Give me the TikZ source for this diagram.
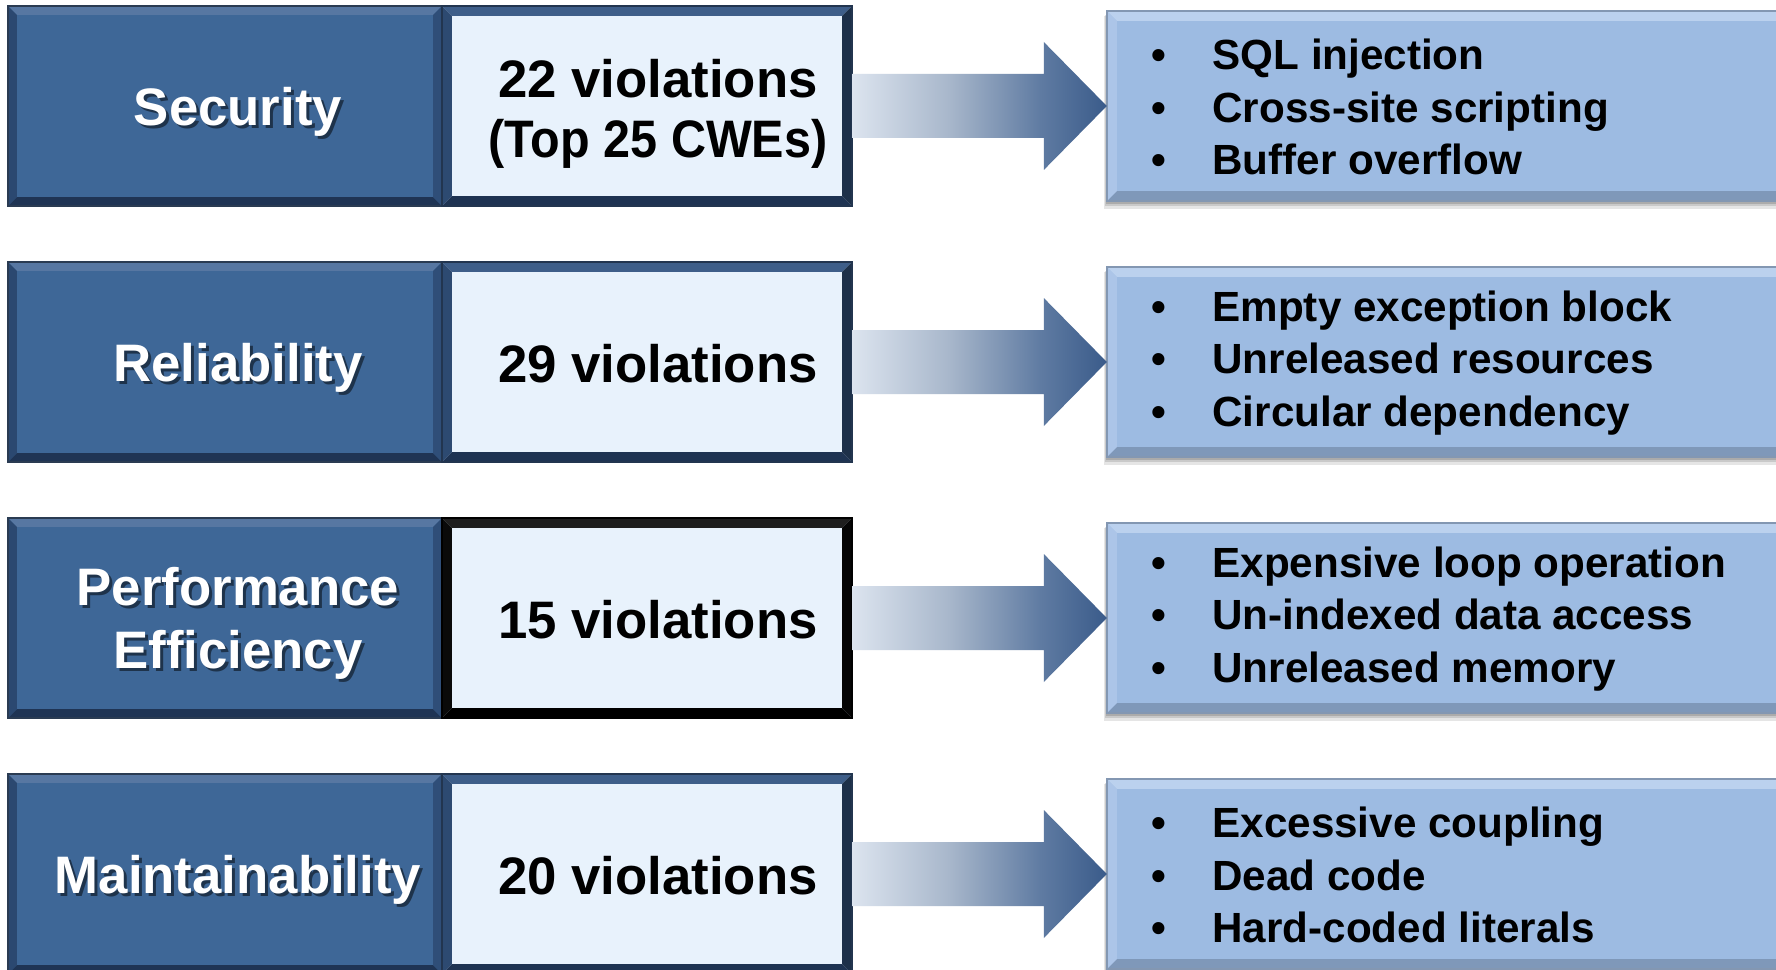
\documentclass[tikz,border=0pt]{standalone}
\usepackage{fontspec}
\usepackage{graphicx}
\setmainfont{Liberation Sans}
\usetikzlibrary{calc}

% face and bevel colours of the three box kinds
\definecolor{dkface}{HTML}{3E6797}
\definecolor{dktop}{HTML}{5777A2}
\definecolor{dkleft}{HTML}{2B4870}
\definecolor{dkbot}{HTML}{1F3454}
\definecolor{dkright}{HTML}{2F4E78}
\definecolor{dkline}{HTML}{2A3B52}

\definecolor{ltface}{HTML}{E8F2FC}
\definecolor{lttop}{HTML}{3E5E89}
\definecolor{ltleft}{HTML}{2D4A71}
\definecolor{ltbot}{HTML}{1E3352}
\definecolor{ltright}{HTML}{1D3049}
\definecolor{ltline}{HTML}{22354F}

\definecolor{bkface}{HTML}{E8F2FC}
\definecolor{bktop}{HTML}{1E1E1E}
\definecolor{bkleft}{HTML}{0A0A0A}
\definecolor{bkbot}{HTML}{000000}
\definecolor{bkright}{HTML}{050505}
\definecolor{bkline}{HTML}{000000}

\definecolor{rbface}{HTML}{9DBBE2}
\definecolor{rbtop}{HTML}{BBD1EE}
\definecolor{rbleft}{HTML}{ACC5E8}
\definecolor{rbbot}{HTML}{7F98B9}
\definecolor{rbright}{HTML}{8EA8CC}
\definecolor{rbline}{HTML}{8397B2}

\definecolor{arA}{HTML}{DCE4EF}
\definecolor{arB}{HTML}{A8B7CB}
\definecolor{arC}{HTML}{5F7BA2}
\definecolor{arD}{HTML}{3A5B8A}

\pgfdeclarehorizontalshading{arrowshade}{100bp}{color(0bp)=(arA); color(25bp)=(arA); color(44bp)=(arB); color(62bp)=(arC); color(75bp)=(arD); color(100bp)=(arD)}

\tikzset{
  box/.style={rectangle, draw=none, inner sep=0pt, outer sep=0pt},
  catbox/.style={box, minimum width=4.34cm, minimum height=2.00cm},
  valbox/.style={box, minimum width=4.10cm, minimum height=2.00cm},
  listbox/.style={box, minimum width=6.93cm, minimum height=1.90cm},
  cattext/.style={font=\fontsize{15}{18}\selectfont\bfseries, text=white, align=center, inner sep=0pt},
  catshadow/.style={cattext, text=black, opacity=.5},
  valtext/.style={font=\fontsize{15}{17.2}\selectfont\bfseries, text=black, align=center, inner sep=0pt},
  listtext/.style={font=\fontsize{12}{14.9}\selectfont\bfseries, text=black, align=left, anchor=west, inner sep=0pt},
  flow/.style={shading=arrowshade}
}

% bevelled frame around a named node: node, bevel width, colour set
\newcommand\bevel[3]{%
  \fill[#3face] (#1.north west) rectangle (#1.south east);
  \fill[#3top] (#1.north west) -- (#1.north east) -- ($(#1.north east)+(-#2,#2)$) -- ($(#1.north west)+(#2,#2)$) -- cycle;
  \fill[#3bot] (#1.south west) -- (#1.south east) -- ($(#1.south east)+(-#2,-#2)$) -- ($(#1.south west)+(#2,-#2)$) -- cycle;
  \fill[#3left] (#1.north west) -- ($(#1.north west)+(#2,#2)$) -- ($(#1.south west)+(#2,-#2)$) -- (#1.south west) -- cycle;
  \fill[#3right] (#1.north east) -- ($(#1.north east)+(-#2,#2)$) -- ($(#1.south east)+(-#2,-#2)$) -- (#1.south east) -- cycle;
  \draw[#3line, line width=0.6pt] (#1.north west) rectangle (#1.south east);
}

% soft drop shadow under a named node
\newcommand\dropshadow[1]{%
  \fill[black, opacity=.10] ($(#1.north west)+(-3,5)$) rectangle ($(#1.south east)+(3,8)$);
  \fill[black, opacity=.12] ($(#1.north west)+(-2,4)$) rectangle ($(#1.south east)+(2,5)$);
  \fill[black, opacity=.15] ($(#1.north west)+(-1,3)$) rectangle ($(#1.south east)+(1,3)$);
}

\newcommand\itm[1]{\makebox[17.3pt][l]{•}#1}

% one row: id, centre y, category, count, frame set, three items
\newcommand\qrow[9]{%
  \node[catbox] (cat#1) at (225,#2) {};
  \node[valbox] (val#1) at (647,#2) {};
  \node[listbox] (lst#1) at (1453.5,#2) {};
  \dropshadow{lst#1}
  \bevel{cat#1}{9}{dk}
  \bevel{val#1}{10}{#5}
  \bevel{lst#1}{10}{rb}
  \shade[flow] ($(val#1.east)+(0,-32)$) -- ($(lst#1.west)+(-63,-32)$) -- ($(lst#1.west)+(-63,-64)$)
     -- (lst#1.west) -- ($(lst#1.west)+(-63,64)$) -- ($(lst#1.west)+(-63,32)$) -- ($(val#1.east)+(0,32)$) -- cycle;
  \node[catshadow] (cat#1s) at (241,{#2+8.5}) {#3};
  \node[cattext] (cat#1t) at (238,{#2+5.5}) {#3};
  \node[valtext] (val#1t) at (658,{#2+#9}) {#4};
  \node[listtext] (lst#1t) at (1151,{#2+1}) {\itm{#6}\\\itm{#7}\\\itm{#8}};
}

\begin{document}
\begin{tikzpicture}[x=0.01cm, y=-0.01cm]
  \useasboundingbox (0,0) rectangle (1776,970);
  \clip (0,0) rectangle (1776,970);
  \fill[white] (0,0) rectangle (1776,970);

  \qrow{1}{106}{Security}{22 violations\\\scalebox{0.92}[1]{(Top 25 CWEs)}}{lt}{SQL injection}{Cross-site scripting}{Buffer overflow}{8}
  \qrow{2}{362}{Reliability}{29 violations}{lt}{Empty exception block}{Unreleased resources}{Circular dependency}{2}
  \qrow{3}{618}{Performance\\Efficiency}{15 violations}{bk}{Expensive loop operation}{Un-indexed data access}{Unreleased memory}{2}
  \qrow{4}{874}{Maintainability}{20 violations}{lt}{Excessive coupling}{Dead code}{Hard-coded literals}{2}
\end{tikzpicture}
\end{document}
